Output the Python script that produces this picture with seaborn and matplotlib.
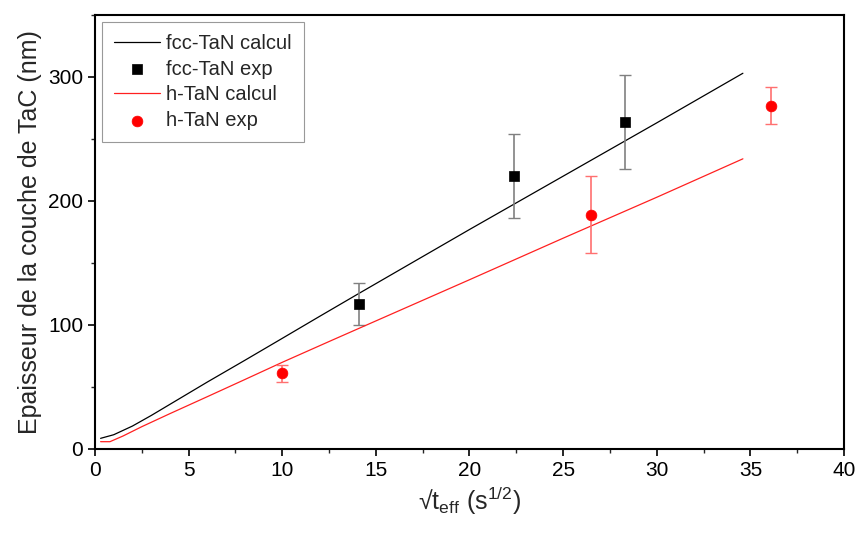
import matplotlib
matplotlib.use("Agg")
import matplotlib.pyplot as plt
import seaborn as sns
import pandas as pd
from matplotlib.ticker import MultipleLocator

# calculated curves
fcc_calc_x = [0.3, 1, 2, 3, 4, 6, 8, 9.75, 12, 14.1, 20, 25, 30, 34.6]
fcc_calc_y = [8.6, 11.5, 18.5, 27, 36, 54, 71.5, 87, 107, 125.5, 177, 220, 263, 303]
h_calc_x = [0.3, 0.8, 1.5, 2.5, 4, 6, 8, 10, 12.7, 20, 25, 30, 34.6]
h_calc_y = [5.9, 5.9, 10.5, 18, 28.5, 42.2, 56, 69.9, 88, 136.5, 170, 203, 234]

# experimental points
fcc_exp_x = [14.1, 22.4, 28.3]
fcc_exp_y = [117, 220, 264]
fcc_exp_err = [17, 34, 38]
h_exp_x = [10.0, 26.5, 36.1]
h_exp_y = [61, 189, 277]
h_exp_err = [7, 31, 15]

labels = ["fcc-TaN calcul", "fcc-TaN exp", "h-TaN calcul", "h-TaN exp"]

sns.set_style("ticks")
plt.rcParams["font.family"] = ["Liberation Sans", "DejaVu Sans"]
plt.rcParams["mathtext.fontset"] = "custom"
plt.rcParams["mathtext.rm"] = "Liberation Sans"

fig = plt.figure(figsize=(8.58, 5.33), dpi=100)
ax = fig.add_axes([0.1107, 0.1576, 0.9837 - 0.1107, 0.9719 - 0.1576])

df_fcc = pd.DataFrame({"x": fcc_calc_x, "y": fcc_calc_y})
df_h = pd.DataFrame({"x": h_calc_x, "y": h_calc_y})

sns.lineplot(data=df_fcc, x="x", y="y", ax=ax, color="black", lw=0.9,
             label=labels[0], sort=False)
ax.errorbar(fcc_exp_x, fcc_exp_y, yerr=fcc_exp_err, fmt="none",
            ecolor="#808080", elinewidth=1.2, capsize=4, capthick=1.0, zorder=2)
sns.scatterplot(x=fcc_exp_x, y=fcc_exp_y, ax=ax, marker="s", s=50,
                color="black", edgecolor="black", linewidth=0.5,
                label=labels[1], zorder=3)
sns.lineplot(data=df_h, x="x", y="y", ax=ax, color="#ff2020", lw=0.9,
             label=labels[2], sort=False)
ax.errorbar(h_exp_x, h_exp_y, yerr=h_exp_err, fmt="none",
            ecolor="#ff7070", elinewidth=1.2, capsize=4, capthick=1.0, zorder=2)
sns.scatterplot(x=h_exp_x, y=h_exp_y, ax=ax, marker="o", s=60,
                color="red", edgecolor="red", linewidth=0.5,
                label=labels[3], zorder=3)

ax.set_xlim(0, 40)
ax.set_ylim(0, 350)
ax.xaxis.set_major_locator(MultipleLocator(5))
ax.xaxis.set_minor_locator(MultipleLocator(2.5))
ax.yaxis.set_major_locator(MultipleLocator(100))
ax.yaxis.set_minor_locator(MultipleLocator(50))
ax.tick_params(which="major", direction="out", length=5, width=1.2,
               labelsize=15, colors="black")
ax.tick_params(which="minor", direction="out", length=3, width=1.0)
for side in ["left", "bottom", "top", "right"]:
    ax.spines[side].set_visible(True)
    ax.spines[side].set_color("black")
    ax.spines[side].set_linewidth(1.5)

ax.set_xlabel("√t$_{\\mathregular{eff}}$ (s$^{\\mathregular{1/2}}$)", fontsize=18)
ax.set_ylabel("Epaisseur de la couche de TaC (nm)", fontsize=18)

handles, labs = ax.get_legend_handles_labels()
leg = ax.legend(handles, labs, loc="upper left",
                bbox_to_anchor=(7 / 749, 1 - 7 / 434), borderaxespad=0,
                frameon=True, fancybox=False, edgecolor="#808080",
                fontsize=14.5, handlelength=2.3, labelspacing=0.33,
                borderpad=0.6, handletextpad=0.3)
leg.get_frame().set_linewidth(0.8)

fig.savefig("out.png", dpi=100)
